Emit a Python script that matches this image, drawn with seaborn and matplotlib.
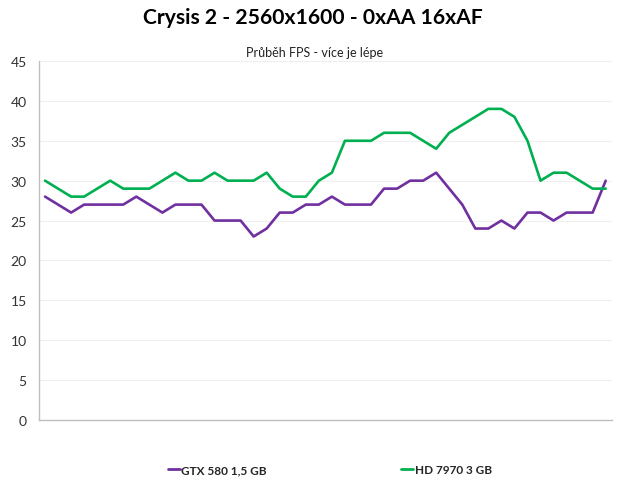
import matplotlib
matplotlib.use("Agg")
import matplotlib.pyplot as plt
import pandas as pd
import seaborn as sns

# FPS samples
gtx580 = [28, 27, 26, 27, 27, 27, 27, 28, 27, 26, 27, 27, 27, 25, 25, 25, 23, 24, 26, 26, 27, 27,
          28, 27, 27, 27, 29, 29, 30, 30, 31, 29, 27, 24, 24, 25, 24, 26, 26, 25, 26, 26, 26, 30]
hd7970 = [30, 29, 28, 28, 29, 30, 29, 29, 29, 30, 31, 30, 30, 31, 30, 30, 30, 31, 29, 28, 28, 30,
          31, 35, 35, 35, 36, 36, 36, 35, 34, 36, 37, 38, 39, 39, 38, 35, 30, 31, 31, 30, 29, 29]
series_names = ["GTX 580 1,5 GB", "HD 7970 3 GB"]
colors = ["#7030A0", "#00B050"]
y_ticks = list(range(0, 50, 5))

df = pd.DataFrame({
    "sample": list(range(len(gtx580))) * 2,
    "fps": gtx580 + hd7970,
    "card": [series_names[0]] * len(gtx580) + [series_names[1]] * len(hd7970),
})

sns.set_theme(style="white")
plt.rcParams["font.family"] = ["Lato", "DejaVu Sans"]

fig = plt.figure(figsize=(6.2, 4.89), dpi=100)
ax = fig.add_axes([39.3 / 620, 1 - 421 / 489, (611.7 - 39.3) / 620, (421 - 62) / 489])

sns.lineplot(data=df, x="sample", y="fps", hue="card", palette=colors, linewidth=1.9, ax=ax, legend=False)

ax.set_xlim(-0.44, len(gtx580) - 1 + 0.46)
ax.set_ylim(0, 45)
ax.set_yticks(y_ticks)
ax.set_yticklabels([str(t) for t in y_ticks], fontsize=10, color="#333333")
ax.set_xticks([])
ax.set_xlabel("")
ax.set_ylabel("")
ax.tick_params(axis="y", length=0, pad=9)
ax.grid(axis="y", color="#efefef", linewidth=0.8)
ax.set_axisbelow(True)
for side in ["top", "right"]:
    ax.spines[side].set_visible(False)
for side in ["left", "bottom"]:
    ax.spines[side].set_color("#bfbfbf")
    ax.spines[side].set_linewidth(1.0)

fig.text(0.504, 1 - 18 / 489, "Crysis 2 - 2560x1600 - 0xAA 16xAF", ha="center", va="center",
         fontsize=15.2, fontweight="bold", color="#000000")
fig.text(0.508, 1 - 53 / 489, "Průběh FPS - více je lépe", ha="center", va="center",
         fontsize=9, color="#222222")

handles = [plt.Line2D([], [], color=c, linewidth=2) for c in colors]
fig.legend(handles, series_names, loc="center", bbox_to_anchor=(0.532, 1 - 471 / 489), ncol=2,
           frameon=False, handlelength=1.0, handletextpad=0.15, columnspacing=11.4,
           prop={"size": 8.5, "weight": "bold"})

fig.savefig("out.png", dpi=100)
